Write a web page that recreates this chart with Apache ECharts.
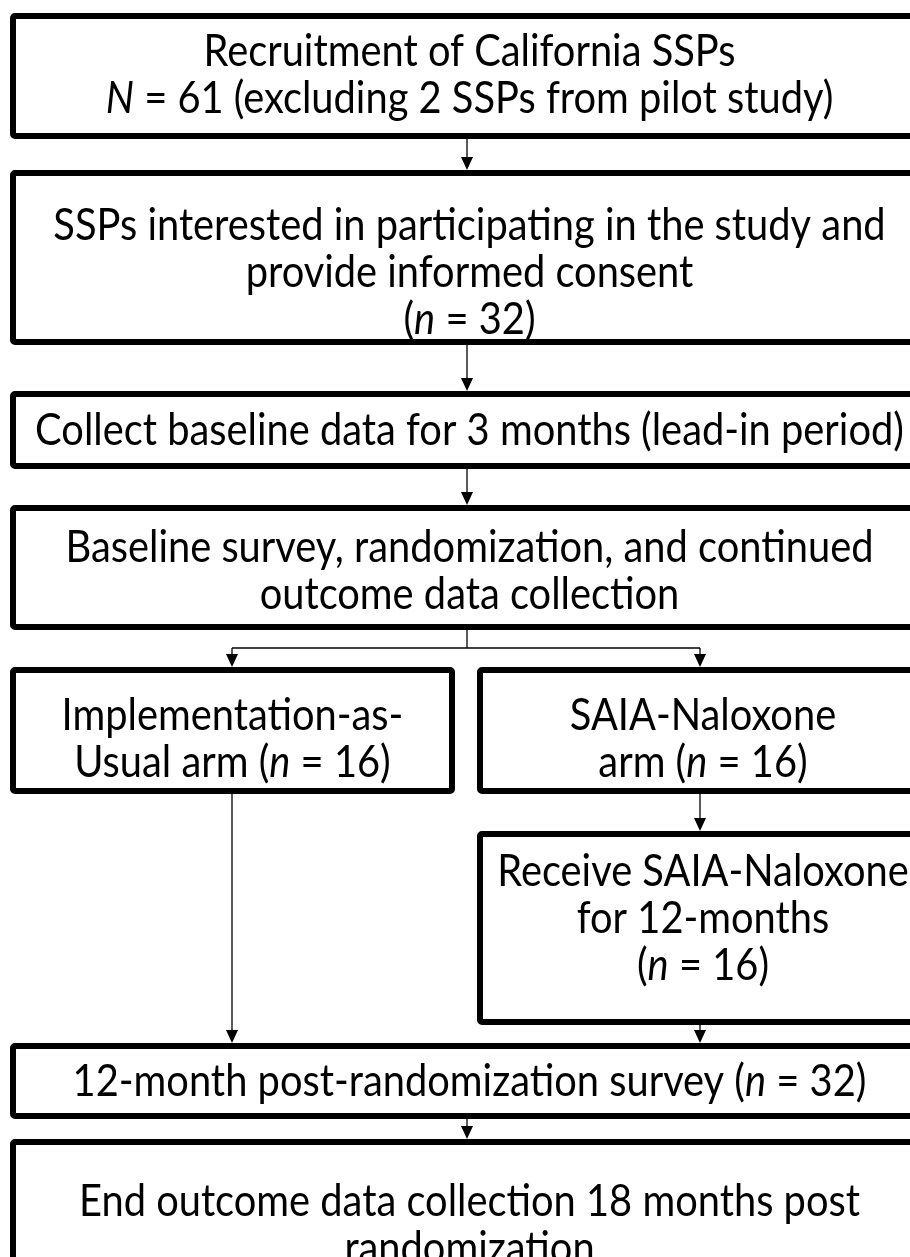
<!DOCTYPE html>
<html>
<head>
<meta charset="utf-8">
<script src="https://cdn.jsdelivr.net/npm/echarts@6/dist/echarts.min.js"></script>
<style>
html,body{margin:0;padding:0;background:#fff;}
#c{width:910px;height:1257px;}
</style>
</head>
<body>
<div id="c"></div>
<script>
// Box texts ({i|...} marks italic)
const step1 = ['Recruitment of California SSPs', '{i|N} = 61 (excluding 2 SSPs from pilot study)'];
const step2 = ['SSPs interested in participating in the study and', 'provide informed consent', '({i|n} = 32)'];
const step3 = ['Collect baseline data for 3 months (lead-in period)'];
const step4 = ['Baseline survey, randomization, and continued', 'outcome data collection'];
const armIAU = ['Implementation-as-', 'Usual arm ({i|n} = 16)'];
const armSAIA = ['SAIA-Naloxone', 'arm ({i|n} = 16)'];
const receive = ['Receive SAIA-Naloxone', 'for 12-months', '({i|n} = 16)'];
const survey = ['12-month post-randomization survey ({i|n} = 32)'];
const endStep = ['End outcome data collection 18 months post', 'randomization'];

const chart = echarts.init(document.getElementById('c'), null, {renderer: 'canvas'});
const FONT = 'Lato';
const FS = 44;
const LH = 47;
const SX = 0.905;

function box(x0, y0, x1, y1, lines, cy) {
  const els = [];
  els.push({
    type: 'rect',
    shape: {x: x0, y: y0, width: x1 - x0, height: y1 - y0, r: 2},
    style: {fill: '#fff', stroke: '#000', lineWidth: 6, lineJoin: 'round'}
  });
  const cx = (x0 + x1) / 2;
  els.push({
    type: 'text',
    x: cx, y: cy,
    scaleX: SX,
    style: {
      text: lines.join('\n'),
      x: 0, y: 0,
      align: 'center', verticalAlign: 'middle',
      fontFamily: FONT, fontSize: FS, lineHeight: LH, fill: '#000',
      rich: {i: {fontFamily: FONT, fontSize: FS, fontStyle: 'italic', lineHeight: LH, fill: '#000'}}
    }
  });
  return els;
}
function arrow(x, y0, y1) {
  return [
    {type: 'line', shape: {x1: x, y1: y0, x2: x, y2: y1 - 10}, style: {stroke: '#000', lineWidth: 1.3}},
    {type: 'polygon', shape: {points: [[x - 6, y1 - 13], [x + 6, y1 - 13], [x, y1]]}, style: {fill: '#000'}}
  ];
}
function seg(x1, y1, x2, y2) {
  return {type: 'line', shape: {x1, y1, x2, y2}, style: {stroke: '#000', lineWidth: 1.3}};
}

const R = 926;
let g = [];
g = g.concat(box(13, 16, R, 136, step1, 75));
g = g.concat(box(13, 173, R, 342, step2, 273));
g = g.concat(box(13, 394, R, 466, step3, 431));
g = g.concat(box(13, 508, R, 627, step4, 571));
g = g.concat(box(13, 670, 452, 791, armIAU, 739));
g = g.concat(box(480, 670, R, 791, armSAIA, 739));
g = g.concat(box(480, 834, R, 1022, receive, 919));
g = g.concat(box(13, 1046, R, 1116, survey, 1082));
g = g.concat(box(13, 1142, R, 1300, endStep, 1225));

g = g.concat(arrow(467, 139, 170));
g = g.concat(arrow(467, 345, 391));
g = g.concat(arrow(467, 469, 505));
g.push(seg(467, 630, 467, 648));
g.push(seg(232, 648, 700, 648));
g = g.concat(arrow(232, 648, 667));
g = g.concat(arrow(700, 648, 667));
g = g.concat(arrow(232, 794, 1043));
g = g.concat(arrow(700, 794, 831));
g = g.concat(arrow(700, 1025, 1043));
g = g.concat(arrow(467, 1119, 1139));

chart.setOption({
  backgroundColor: '#fff',
  animation: false,
  graphic: {elements: g}
});
</script>
</body>
</html>
